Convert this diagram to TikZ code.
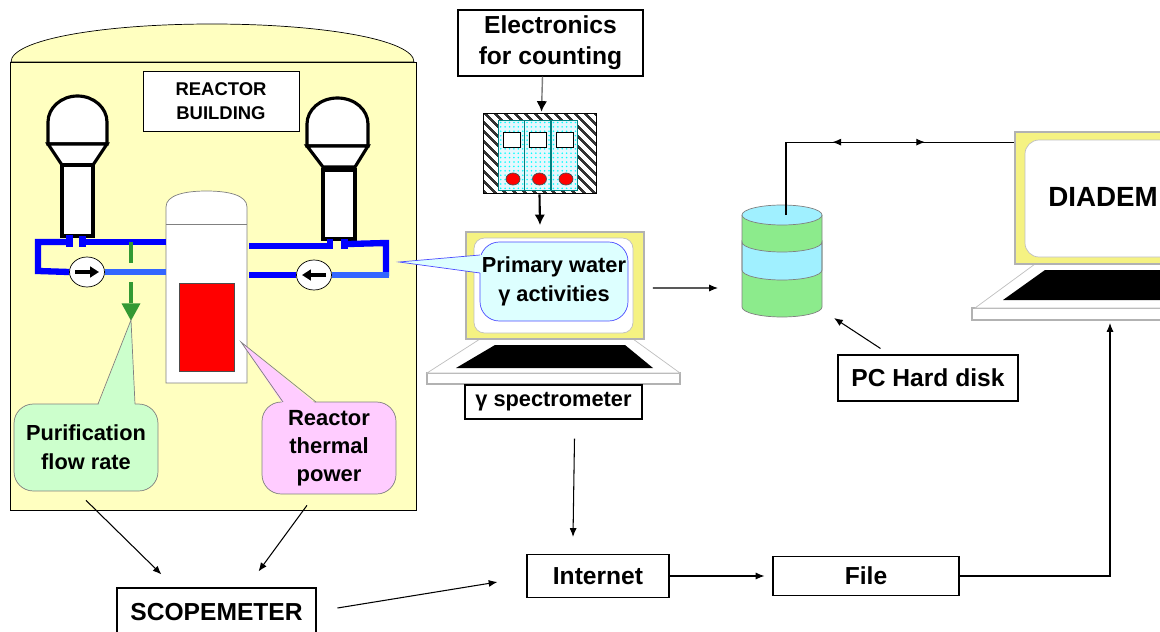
\documentclass[tikz,border=0pt]{standalone}
\usepackage{fontspec}
\setmainfont{Liberation Sans}
\usetikzlibrary{arrows.meta,shapes.geometric,patterns.meta,calc,decorations.markings}

\definecolor{wall}{RGB}{255,255,192}
\definecolor{hotleg}{RGB}{0,0,255}
\definecolor{coldleg}{RGB}{51,102,255}
\definecolor{bleed}{RGB}{51,153,51}
\definecolor{mint}{RGB}{204,255,204}
\definecolor{rose}{RGB}{255,204,255}
\definecolor{ice}{RGB}{221,255,255}
\definecolor{bezel}{RGB}{245,242,130}
\definecolor{diskgreen}{RGB}{140,235,140}
\definecolor{diskcyan}{RGB}{160,240,255}

\tikzset{
  infobox/.style={draw, fill=white, line width=0.6pt, align=center, inner sep=0pt,
    font=\bfseries\fontsize{14}{17.6}\selectfont},
  callout/.style={draw=gray, rounded corners=11pt, align=center, inner sep=0pt,
    font=\bfseries\fontsize{12.4}{16.4}\selectfont},
  pipe/.style={line width=3.6pt, color=hotleg},
  coolpipe/.style={line width=3.6pt, color=coldleg},
  sg/.style={line width=1.8pt, fill=white},
  pump/.style={ellipse, draw, fill=white, inner sep=0pt, minimum width=0.7cm, minimum height=0.6cm},
  link/.style={->, line width=0.6pt},
  bezelbox/.style={draw=gray!60, fill=bezel, line width=1pt},
}

\begin{document}
\begin{tikzpicture}[x=0.02cm, y=-0.02cm, >={Latex[length=5pt,width=4pt]}]
\useasboundingbox (0,0) rectangle (1160,632);
\clip (0,0) rectangle (1160,632);

% reactor building
\draw[fill=wall] (11,62) .. controls (11,40) and (100,24) .. (212,24) .. controls (324,24) and (414,40) .. (414,62) -- cycle;
\draw[fill=wall] (10,62) rectangle (416,510);
\node[draw, fill=white, minimum width=3.12cm, minimum height=1.2cm, align=center, inner sep=0pt,
  font=\bfseries\fontsize{10.5}{13.6}\selectfont] (building) at (221,101) {REACTOR\\BUILDING};

% steam generators
\draw[sg] (48,144) -- (48,122) .. controls (48,108) and (61,96) .. (77.5,96) .. controls (94,96) and (107,108) .. (107,122) -- (107,144) -- cycle;
\draw[sg] (48,144) -- (62,165) -- (93,165) -- (107,144) -- cycle;
\draw[sg] (62,165) rectangle (93,236);
\draw[sg] (307,146) -- (307,124) .. controls (307,110) and (320,98) .. (337.5,98) .. controls (355,98) and (368,110) .. (368,124) -- (368,146) -- cycle;
\draw[sg] (307,146) -- (323,167) -- (355,167) -- (368,146) -- cycle;
\draw[sg] (323,170) rectangle (355,239);

% vessel and core
\draw[gray, fill=white] (166,207) .. controls (166,195) and (185,191) .. (206.5,191) .. controls (228,191) and (247,195) .. (247,207) -- (247,383) -- (166,383) -- cycle;
\draw[gray] (166,224) -- (247,224);
\draw[fill=red, draw=gray!60!black] (179,283) rectangle (234,371);

% primary loops
\node[pump] (pumpA) at (87,272) {};
\node[pump] (pumpB) at (314,275) {};
\draw[pipe] (66,242) -- (38,242) -- (38,271) -- (pumpA.west);
\draw[pipe] (86,242) -- (166,242);
\draw[coolpipe] (pumpA.east) -- (166,272);
\fill[hotleg] (66,235) rectangle (73,247);
\fill[hotleg] (79,236) rectangle (86,247);
\draw[pipe] (249,246) -- (327,246);
\fill[hotleg] (327,239) rectangle (333,249);
\fill[hotleg] (341,239) rectangle (348,249);
\draw[pipe] (348,244) -- (386,243) -- (386,276);
\draw[coolpipe] (389,275) -- (pumpB.east);
\draw[pipe] (pumpB.west) -- (249,275);
\draw[-{Triangle[length=5pt,width=6pt]}, line width=2pt] ($(pumpA)+(-12,0)$) -- ($(pumpA)+(12,0)$);
\draw[-{Triangle[length=5pt,width=6pt]}, line width=2pt] ($(pumpB)+(12,0)$) -- ($(pumpB)+(-12,0)$);
\draw[bleed, line width=2.8pt, dash pattern=on 12pt off 11pt, -{Triangle[length=10pt,width=10pt]}] (131,242) -- (131,321);

% callouts inside the building
\node[callout, fill=mint, minimum width=2.88cm, minimum height=1.74cm] (purif) at (86,447.5) {Purification\\flow rate};
\fill[mint] (98,406) -- (131,320) -- (135,406) -- cycle;
\draw[gray] (98,404) -- (131,320) -- (135,404);
\node[callout, fill=rose, minimum width=2.68cm, minimum height=1.84cm,
  font=\bfseries\fontsize{12.5}{15.9}\selectfont] (power) at (329,448) {Reactor\\thermal\\power};
\fill[rose] (283,404) -- (241,342) -- (316,404) -- cycle;
\draw[gray] (283,402) -- (241,342) -- (316,402);

\node[infobox, minimum width=3.98cm, minimum height=0.96cm] (scope) at (216.5,612) {SCOPEMETER};
\draw[link] ($(purif.south)+(0,9)$) -- ($(scope.north)+(-55,-13)$);
\draw[link] ($(power.south)+(-22,11)$) -- ($(scope.north)+(42,-16)$);

% counting chain
\node[infobox, minimum width=3.7cm, minimum height=1.32cm] (count) at (550.5,43) {Electronics\\for counting};
\node[draw, minimum width=2.26cm, minimum height=1.6cm, preaction={fill=white},
  pattern={Lines[angle=-45,distance=4pt,line width=1.5pt]}, pattern color=black!80] (module) at (539.5,153) {};
\foreach \x in {498,524.5,551} {
  \draw[draw=teal, preaction={fill=cyan!10}, pattern={Dots[distance=2.5pt,radius=0.5pt]}, pattern color=cyan]
    (\x,120) rectangle (\x+26,190);
  \draw[fill=white] (\x+5,132) rectangle (\x+22,147);
  \draw[fill=red, draw=black!70] (\x+15,179) ellipse [x radius=7, y radius=6];
}
\draw[gray, line width=0.8pt, -{Latex[black,length=6pt,width=6pt]}] ($(count.south)+(-8,0)$) -- ($(module.north)+(2,0)$);

% spectrometer
\draw[fill=white, draw=gray!60, line width=1.2pt] (427,373) rectangle (680,384);
\draw[fill=white, draw=gray!50] (480,339) -- (633,339) -- (680,373) -- (427,373) -- cycle;
\fill (495,345) -- (625,345) -- (653,368) -- (456,368) -- cycle;
\node[bezelbox, minimum width=3.56cm, minimum height=2.14cm] (specbezel) at (555,285.5) {};
\draw[fill=white, draw=gray!50, rounded corners=6pt] (474,238) rectangle (633,333);
\draw[line width=1.2pt, -{Latex[length=6pt,width=6pt]}] (module.south) -- ($(specbezel.north)+(-15,-6)$);
\node[callout, fill=ice, draw=blue!70, minimum width=2.96cm, minimum height=1.58cm] (primary) at (554,281.5) {Primary water\\γ activities};
\fill[ice] (482,255) -- (399,262) -- (482,273) -- cycle;
\draw[blue!70] (480,255) -- (399,262) -- (480,273);
\node[infobox, minimum width=3.54cm, minimum height=0.68cm,
  font=\bfseries\fontsize{12.4}{15}\selectfont] (spectro) at (553.5,402) {γ spectrometer};

% network and file
\node[infobox, minimum width=2.84cm, minimum height=0.86cm] (inet) at (598,576) {Internet};
\node[infobox, minimum width=3.72cm, minimum height=0.78cm] (file) at (866,576) {File};
\draw[link] ($(spectro.south)+(21,19)$) -- ($(inet.north)+(-25,-17)$);
\draw[link] ($(scope.east)+(21,-4)$) -- ($(inet.west)+(-29,6)$);
\draw[link] (inet.east) -- ($(file.west)+(-8,0)$);

% hard disk
\fill[diskgreen] (742,215) -- (742,307) .. controls (742,312.5) and (760,317) .. (782,317) .. controls (804,317) and (822,312.5) .. (822,307) -- (822,215) -- cycle;
\draw[fill=diskcyan, draw=gray] (742,242) .. controls (742,247.5) and (760,252) .. (782,252) .. controls (804,252) and (822,247.5) .. (822,242)
  -- (822,270) .. controls (822,275.5) and (804,280) .. (782,280) .. controls (760,280) and (742,275.5) .. (742,270) -- cycle;
\draw[gray] (742,215) -- (742,307) .. controls (742,312.5) and (760,317) .. (782,317) .. controls (804,317) and (822,312.5) .. (822,307) -- (822,215);
\draw[fill=diskcyan, draw=gray] (782,215) ellipse [x radius=40, y radius=10];
\coordinate (disktop) at (786,215);
\coordinate (diskleft) at (718,288);
\coordinate (diskside) at (834,318);
\draw[link] ($(specbezel.east)+(8,2.5)$) -- (diskleft);
\node[infobox, minimum width=3.6cm, minimum height=0.92cm] (hdd) at (928,378) {PC Hard disk};
\draw[link] ($(hdd.north west)+(43,-6)$) -- (diskside);

% DIADEM computer
\draw[fill=white, draw=gray!60, line width=1.2pt] (972,308) rectangle (1250,320);
\draw[fill=white, draw=gray!50] (1035,264) -- (1230,264) -- (1270,308) -- (975,308) -- cycle;
\fill (1045,270) -- (1220,270) -- (1260,300) -- (1003,300) -- cycle;
\node[bezelbox, minimum width=4.5cm, minimum height=2.64cm] (pcbezel) at (1127.5,198) {};
\draw[fill=white, draw=gray!50, rounded corners=8pt] (1025,140) rectangle (1230,257);
\node[font=\bfseries\fontsize{15.8}{19}\selectfont] (diadem) at (1103,197) {DIADEM};
\coordinate (pcbase) at (1110,323);
\draw[link] (file.east) -| (pcbase);
\draw[line width=0.6pt, postaction={decorate}, decoration={markings,
  mark=at position 0.425 with {\arrow{<}}, mark=at position 0.704 with {\arrow{>}}}]
  (disktop) |- ($(pcbezel.north west)+(0,11)$);
\end{tikzpicture}
\end{document}
